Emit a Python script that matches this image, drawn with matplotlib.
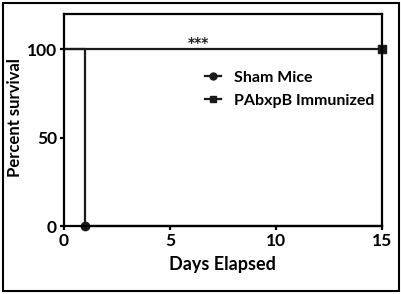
import matplotlib.pyplot as plt
from matplotlib.patches import Rectangle

plt.rcParams['font.family'] = ['Lato', 'DejaVu Sans']
plt.rcParams['font.weight'] = 'bold'

# data
sham_days = [0, 1, 1, 15]
sham_surv = [100, 100, 0, 0]
sham_marker_day = [1]
sham_marker_surv = [0]

imm_days = [0, 15]
imm_surv = [100, 100]
imm_marker_day = [15]
imm_marker_surv = [100]

xticks = [0, 5, 10, 15]
yticks = [0, 50, 100]

fig = plt.figure(figsize=(4.02, 2.94), dpi=100)
ax = fig.add_axes([0.159, 0.231, 0.791, 0.721])

ax.plot(sham_days, sham_surv, color='#1a1a1a', lw=1.6, clip_on=False)
ax.plot(sham_marker_day, sham_marker_surv, 'o', color='#1a1a1a', ms=6, clip_on=False)
ax.plot(imm_days, imm_surv, color='#1a1a1a', lw=1.6, clip_on=False)
ax.plot(imm_marker_day, imm_marker_surv, 's', color='#1a1a1a', ms=6, clip_on=False)

# legend handles
ax.plot([], [], '-o', color='#1a1a1a', lw=1.6, ms=5, label='Sham Mice')
ax.plot([], [], '-s', color='#1a1a1a', lw=1.6, ms=5, label='PAbxpB Immunized')
ax.legend(loc='upper left', bbox_to_anchor=(0.40, 0.80), frameon=False,
          fontsize=11.5, handlelength=1.0, handletextpad=0.8, labelspacing=0.55)

# significance stars
ax.text(6.35, 103.5, '***', ha='center', va='center', fontsize=10,
        family='DejaVu Sans', fontweight='bold', color='#222222')

ax.set_xlim(0, 15)
ax.set_ylim(0, 120)
ax.set_xticks(xticks)
ax.set_yticks(yticks)
ax.tick_params(direction='out', width=1.6, length=3, pad=2, labelsize=12.5)
for s in ax.spines.values():
    s.set_linewidth(1.6)
ax.set_xlabel('Days Elapsed', fontsize=13, fontweight='bold', labelpad=5)
ax.set_ylabel('Percent survival', fontsize=12, fontweight='bold')
ax.yaxis.set_label_coords(-0.129, 0.51)

fig.patches.append(Rectangle((0.008, 0.01), 0.984, 0.98, transform=fig.transFigure,
                             fill=False, edgecolor='black', lw=1.5))

fig.savefig('out.png', dpi=100)
